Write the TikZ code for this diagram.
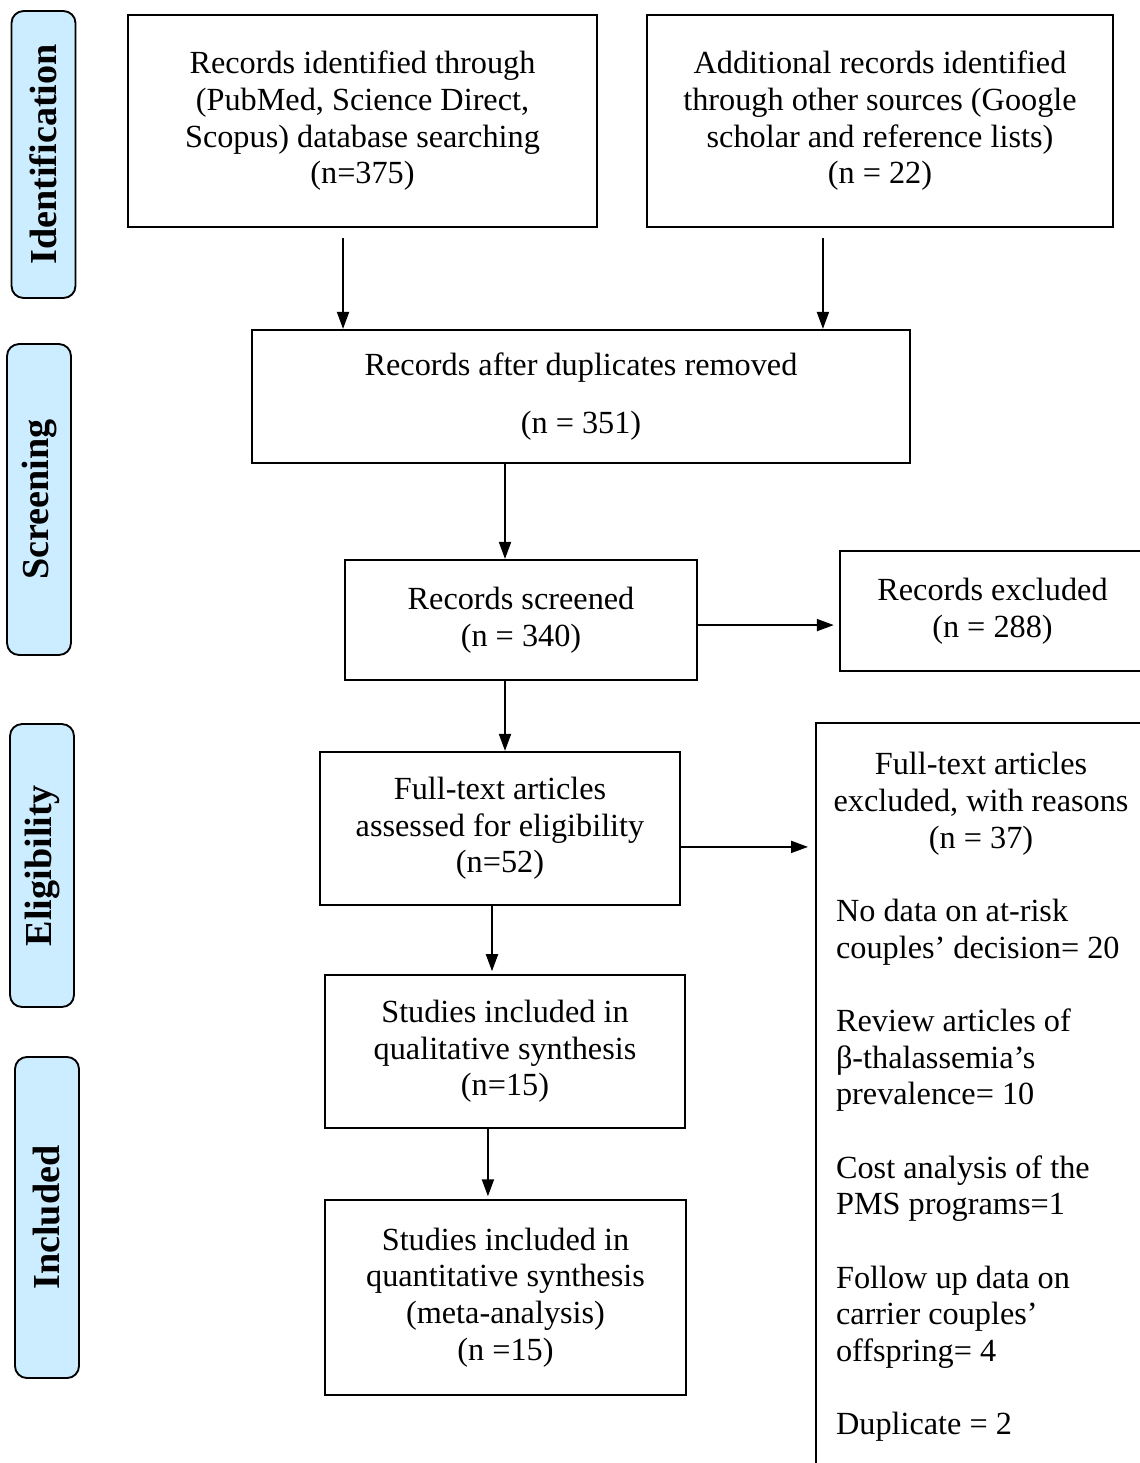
\documentclass[tikz,border=0pt]{standalone}
\usepackage{fontspec}
\setmainfont{Liberation Serif}
\usetikzlibrary{arrows.meta,positioning,calc}
\definecolor{phaseblue}{RGB}{204,236,255}

\begin{document}
\begin{tikzpicture}[x=0.375pt, y=-0.375pt,
  font=\fontsize{12.1}{13.75}\selectfont,
  box/.style={draw, line width=0.8pt, align=center, inner sep=0pt},
  phase/.style={draw, line width=0.7pt, rounded corners=4.5pt, fill=phaseblue,
    rotate=90, inner sep=0pt, minimum height=24pt, font=\fontsize{14.3}{16}\selectfont\bfseries},
  arr/.style={line width=0.75pt, -{Triangle[length=6.4pt, width=4.5pt]}}]
  \useasboundingbox (0,0) rectangle (1140,1463);
  % ---- phase labels on the left ----
  \node[phase, minimum width=107.6pt] (ident) at (43.5,154.5) {Identification};
  \node[phase, minimum width=116.6pt] (screen) at (39,499.5) {Screening};
  \node[phase, minimum width=106.1pt] (elig) at (42,865.5) {Eligibility};
  \node[phase, minimum width=120.4pt] (incl) at (47,1217.5) {Included};
  % ---- identification ----
  \node[box, minimum width=175.9pt, minimum height=79.5pt] (dbase) at (362.5,121)
    {Records identified through\\(PubMed, Science Direct,\\Scopus) database searching\\(n=375)};
  \node[box, minimum width=174.8pt, minimum height=79.5pt] (other) at (880,121)
    {Additional records identified\\through other sources (Google\\scholar and reference lists)\\(n = 22)};
  % ---- screening ----
  \node[box, minimum width=246.8pt, minimum height=49.9pt] (dupl) at (581,396.5)
    {Records after duplicates removed\\[8pt](n = 351)};
  \node[box, minimum width=132pt, minimum height=45pt] (screened) at (521,620)
    {Records screened\\(n = 340)};
  \node[box, minimum width=114.4pt, minimum height=45pt] (excl) at (992.5,611)
    {Records excluded\\(n = 288)};
  % ---- eligibility ----
  \node[box, minimum width=135pt, minimum height=57.4pt] (fulltext) at (500,828.5)
    {Full-text articles\\assessed for eligibility\\(n=52)};
  \node[box, anchor=north west, inner sep=0pt] (reasons) at (815,722)
    {\parbox[t][285pt][t]{133pt}{\hspace*{7.5pt}\parbox[t]{108.75pt}{\vspace*{11pt}%
      \makebox[\linewidth]{Full-text articles}\\
      \makebox[\linewidth]{excluded, with reasons}\\
      \makebox[\linewidth]{(n = 37)}\\
      \mbox{}\\No data on at-risk\\couples’ decision= 20\\
      \mbox{}\\Review articles of\\β-thalassemia’s\\prevalence= 10\\
      \mbox{}\\Cost analysis of the\\PMS programs=1\\
      \mbox{}\\Follow up data on\\carrier couples’\\offspring= 4\\
      \mbox{}\\Duplicate = 2}}};
  % ---- included ----
  \node[box, minimum width=135pt, minimum height=57.4pt] (quali) at (505,1051.5)
    {Studies included in\\qualitative synthesis\\(n=15)};
  \node[box, minimum width=135.4pt, minimum height=73.1pt] (quanti) at (505.5,1297.5)
    {Studies included in\\quantitative synthesis\\(meta-analysis)\\(n =15)};
  % ---- connectors ----
  \draw[arr] ([xshift=-7.3pt, yshift=-3.75pt]dbase.south) -- ([xshift=-7.3pt]dbase.south |- dupl.north);
  \draw[arr] ([xshift=-21.4pt, yshift=-3.75pt]other.south) -- ([xshift=-21.4pt]other.south |- dupl.north);
  \draw[arr] ([xshift=-6pt]screened.north |- dupl.south) -- ([xshift=-6pt]screened.north);
  \draw[arr] ([yshift=-1.9pt]screened.east) -- ([yshift=-1.9pt, xshift=-1.9pt]screened.east -| excl.west);
  \draw[arr] ([xshift=-6pt]screened.south) -- ([xshift=-6pt]screened.south |- fulltext.north);
  \draw[arr] ([yshift=-6.9pt]fulltext.east) -- ([yshift=-6.9pt, xshift=-2.6pt]fulltext.east -| reasons.west);
  \draw[arr] ([xshift=-3pt]fulltext.south) -- ([xshift=-3pt, yshift=1pt]fulltext.south |- quali.north);
  \draw[arr] ([xshift=-6.4pt]quali.south) -- ([xshift=-6.4pt, yshift=1pt]quali.south |- quanti.north);
\end{tikzpicture}
\end{document}
